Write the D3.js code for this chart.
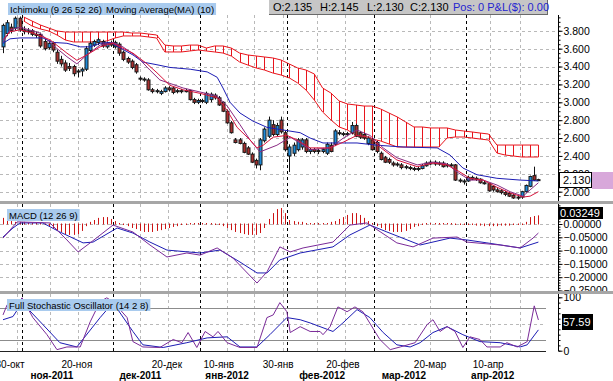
<!DOCTYPE html>
<html>
<head>
<meta charset="utf-8">
<script src="https://cdnjs.cloudflare.com/ajax/libs/d3/7.8.5/d3.min.js"></script>
<style>
body { margin: 0; background: #fff; }
svg text { font-family: "Liberation Sans", Arial, sans-serif; }
</style>
</head>
<body>
<svg id="chart" width="613" height="381"></svg>
<script>
// ----------------- DATA -----------------
var openP = [3.62,3.77,3.84,3.83,3.94,3.81,3.79,3.80,3.76,3.76,
    3.68,3.61,3.66,3.56,3.48,3.44,3.40,3.40,3.34,3.35,
    3.37,3.58,3.64,3.67,3.68,3.62,3.66,3.62,3.65,3.56,
    3.49,3.46,3.42,3.27,3.26,3.25,3.14,3.12,3.10,3.12,
    3.16,3.16,3.12,3.13,3.12,3.13,3.03,3.00,3.02,3.00,
    3.03,3.08,3.05,3.00,2.90,2.77,2.58,2.58,2.54,2.49,
    2.42,2.35,2.30,2.57,2.62,2.75,2.64,2.80,2.66,2.40,
    2.43,2.47,2.50,2.58,2.45,2.47,2.46,2.45,2.43,2.52,
    2.53,2.66,2.65,2.64,2.66,2.74,2.66,2.64,2.54,2.58,
    2.55,2.43,2.38,2.36,2.32,2.31,2.30,2.28,2.27,2.26,
    2.25,2.26,2.29,2.31,2.33,2.31,2.32,2.29,2.30,2.30,
    2.13,2.12,2.12,2.14,2.15,2.14,2.10,2.09,2.06,2.02,
    2.01,1.99,1.98,1.96,1.94,1.94,2.00,2.06,2.18,2.135];
var highP = [3.88,3.92,3.88,3.96,3.96,3.85,3.83,3.82,3.79,3.78,
    3.71,3.69,3.68,3.59,3.52,3.47,3.44,3.42,3.37,3.39,
    3.63,3.68,3.70,3.72,3.70,3.68,3.69,3.69,3.67,3.58,
    3.51,3.48,3.44,3.29,3.28,3.27,3.16,3.15,3.14,3.18,
    3.18,3.17,3.15,3.15,3.15,3.14,3.05,3.04,3.04,3.12,
    3.11,3.10,3.07,3.01,2.92,2.79,2.60,2.60,2.56,2.51,
    2.44,2.37,2.60,2.72,2.84,2.80,2.77,2.84,2.68,2.53,
    2.55,2.60,2.60,2.60,2.49,2.49,2.48,2.49,2.55,2.55,
    2.70,2.69,2.67,2.67,2.78,2.76,2.68,2.66,2.62,2.60,
    2.57,2.45,2.40,2.38,2.34,2.33,2.32,2.30,2.29,2.28,
    2.28,2.31,2.34,2.35,2.35,2.34,2.34,2.32,2.32,2.31,
    2.15,2.14,2.18,2.18,2.17,2.15,2.12,2.10,2.07,2.04,
    2.03,2.01,2.00,1.98,1.96,2.01,2.08,2.18,2.28,2.145];
var lowP = [3.55,3.74,3.77,3.80,3.79,3.76,3.76,3.74,3.72,3.61,
    3.58,3.59,3.56,3.43,3.40,3.34,3.35,3.29,3.28,3.29,
    3.35,3.56,3.62,3.64,3.61,3.60,3.62,3.60,3.52,3.46,
    3.43,3.37,3.32,3.24,3.23,3.13,3.10,3.10,3.08,3.11,
    3.12,3.09,3.10,3.10,3.11,3.02,2.98,2.98,2.99,2.98,
    3.00,3.03,2.96,2.89,2.76,2.65,2.54,2.53,2.43,2.41,
    2.32,2.26,2.24,2.55,2.60,2.62,2.62,2.65,2.45,2.22,
    2.40,2.45,2.47,2.43,2.42,2.43,2.42,2.43,2.41,2.44,
    2.51,2.63,2.62,2.62,2.64,2.61,2.59,2.58,2.52,2.46,
    2.43,2.35,2.32,2.31,2.28,2.28,2.25,2.25,2.24,2.23,
    2.23,2.25,2.28,2.30,2.29,2.29,2.27,2.27,2.28,2.12,
    2.10,2.08,2.11,2.13,2.12,2.09,2.08,2.00,2.00,1.99,
    1.97,1.95,1.94,1.92,1.91,1.92,1.99,2.05,2.12,2.13];
var closeP = [3.86,3.89,3.80,3.94,3.81,3.79,3.80,3.76,3.75,3.63,
    3.60,3.66,3.585,3.46,3.43,3.36,3.38,3.32,3.35,3.37,
    3.60,3.66,3.68,3.70,3.63,3.66,3.64,3.67,3.55,3.48,
    3.45,3.39,3.34,3.26,3.25,3.14,3.12,3.13,3.12,3.16,
    3.14,3.11,3.13,3.12,3.13,3.03,3.00,3.02,3.01,3.10,
    3.09,3.05,2.97,2.90,2.77,2.66,2.55,2.54,2.44,2.42,
    2.33,2.30,2.58,2.70,2.80,2.64,2.74,2.67,2.47,2.50,
    2.52,2.58,2.58,2.45,2.47,2.45,2.45,2.47,2.53,2.45,
    2.68,2.65,2.64,2.65,2.74,2.62,2.61,2.60,2.60,2.47,
    2.45,2.36,2.33,2.33,2.30,2.30,2.27,2.27,2.26,2.25,
    2.26,2.29,2.32,2.33,2.31,2.32,2.28,2.30,2.29,2.13,
    2.12,2.12,2.16,2.16,2.14,2.10,2.09,2.01,2.02,2.00,
    1.99,1.97,1.95,1.93,1.93,2.00,2.07,2.17,2.13,2.13];

// ichimoku cloud, one value every 2nd bar starting at bar 5
var cloudFirst = 5;
var cloudTop = [3.954,3.909,3.865,3.831,3.798,
    3.786,3.786,3.786,3.786,3.786,3.786,3.786,3.786,
    3.775,3.775,3.764,3.753,
    3.64,3.63,3.63,3.64,3.64,3.607,3.63,3.63,3.607,
    3.551,3.529,3.518,3.507,3.496,3.473,3.428,3.384,3.361,3.317,
    3.16,3.104,3.015,2.981,2.97,2.958,2.958,2.925,2.88,2.836,2.78,2.724,2.724,
    2.713,2.713,2.713,2.69,2.679,2.668,2.656,2.645,
    2.522,2.522,2.522,2.522,2.522,2.522];
var cloudBot = [3.909,3.853,3.82,3.798,3.753,
    3.697,3.675,3.675,3.675,3.675,3.686,3.719,3.742,
    3.742,3.742,3.731,3.719,
    3.563,3.563,3.563,3.574,3.585,3.574,3.563,3.551,3.518,
    3.451,3.417,3.384,3.361,3.328,3.305,3.272,3.216,3.138,3.026,
    2.892,2.803,2.724,2.69,2.634,2.601,2.589,2.567,2.534,2.5,2.5,2.5,2.5,
    2.5,2.5,2.601,2.612,2.612,2.601,2.589,2.578,
    2.433,2.41,2.399,2.388,2.388,2.388];

// [bar, value]
var kijun = [[0,3.66],[1.7,3.71],[4.1,3.72],[9.6,3.72],[12,3.67],[15.4,3.66],[18.6,3.62],[21,3.62],
    [23.4,3.66],[25.8,3.67],[28.2,3.61],[31.3,3.53],[33.7,3.45],[37.1,3.42],[40.2,3.39],[45.1,3.37],
    [49.2,3.34],[51.6,3.28],[53,3.16],[54.7,3.00],[57.1,2.88],[60.2,2.79],[63.6,2.72],[67.5,2.69],
    [71.6,2.66],[74,2.60],[77.1,2.545],[85.3,2.545],[90.1,2.52],[96.4,2.50],[104.6,2.49],[107.7,2.41],
    [110.8,2.265],[114.2,2.19],[119,2.15],[124.6,2.13],[129,2.12]];
var ma10 = [[0,3.70],[1.7,3.79],[4.1,3.81],[7.2,3.775],[11.3,3.70],[15.4,3.55],[17.8,3.47],[20.2,3.53],
    [23.4,3.62],[26.5,3.66],[28.2,3.62],[31.3,3.55],[34.7,3.43],[37.1,3.33],[40.2,3.19],[43.4,3.14],
    [47.5,3.10],[51.6,3.05],[54,2.91],[56.4,2.72],[59.5,2.58],[61.2,2.49],[62.7,2.52],[65.1,2.61],
    [68.4,2.63],[70.8,2.58],[74,2.49],[78.8,2.49],[82,2.555],[85.3,2.63],[88.4,2.61],[90.8,2.50],
    [94.9,2.355],[99.8,2.28],[103.6,2.32],[107,2.30],[109.4,2.24],[112.5,2.15],[115.7,2.13],[119,2.05],
    [122.2,1.985],[125.3,1.94],[127,1.95],[129,2.00]];
var tenkan = [[0,3.67],[1.7,3.81],[4.1,3.84],[8.9,3.775],[12,3.64],[15.4,3.51],[17.8,3.43],[20.2,3.53],
    [23.4,3.64],[26.5,3.67],[28.9,3.62],[32.3,3.51],[35.4,3.36],[37.8,3.25],[43.4,3.16],[47.5,3.115],
    [51.6,3.07],[54,2.96],[57.1,2.75],[59.5,2.58],[61.9,2.445],[66,2.52],[69.2,2.61],[71.6,2.545],
    [74,2.47],[78.8,2.49],[82,2.60],[85.3,2.69],[88.4,2.63],[91.6,2.49],[94.9,2.38],[99.8,2.30],
    [103.6,2.33],[107,2.31],[109.4,2.22],[112.5,2.13],[115.7,2.13],[119,2.075],[122.2,2.00],
    [125.3,1.95],[127,2.02],[129,2.10]];

var macdHist = [0.023,0.019,0.011,0.008,0.008,0.008,0.004,0.002,0.002,0.000,
    -0.004,-0.008,-0.015,-0.023,-0.030,-0.038,-0.041,-0.041,-0.038,-0.026,
    -0.008,0.008,0.015,0.023,0.026,0.026,0.019,0.011,0.002,-0.004,
    -0.008,-0.015,-0.019,-0.026,-0.030,-0.030,-0.030,-0.026,-0.023,-0.019,
    -0.015,-0.011,-0.008,-0.004,-0.002,0.002,0.000,0.002,0.002,0.002,
    0.000,-0.002,-0.004,-0.008,-0.015,-0.023,-0.030,-0.034,-0.038,-0.041,
    -0.041,-0.041,-0.034,-0.015,0.019,0.041,0.056,0.060,0.041,0.015,
    0.011,0.008,0.008,0.004,0.004,0.004,0.004,0.004,0.004,0.008,
    0.011,0.019,0.026,0.034,0.041,0.041,0.034,0.023,0.011,0.004,
    -0.008,-0.015,-0.023,-0.026,-0.030,-0.030,-0.030,-0.026,-0.019,-0.011,
    -0.008,-0.004,0.000,0.000,0.002,0.002,0.002,0.000,0.000,-0.002,
    -0.004,-0.004,-0.004,-0.004,-0.006,-0.006,-0.008,-0.008,-0.008,-0.008,
    -0.006,-0.006,-0.006,-0.004,-0.004,-0.002,0.008,0.026,0.030,0.03249];
var macdLine = [[0,-0.053],[3.4,0.008],[11.3,0.004],[15.4,-0.060],[18.1,-0.105],[21,-0.071],[26.5,-0.004],
    [31.3,-0.030],[35.4,-0.079],[39.5,-0.124],[44.3,-0.109],[47.5,-0.117],[51.6,-0.090],[55.4,-0.128],
    [61.2,-0.222],[63.6,-0.180],[66.7,-0.086],[69.2,-0.105],[72.3,-0.090],[79.5,-0.068],[83.6,-0.004],
    [87.7,0.004],[94.9,-0.071],[98.8,-0.086],[103.6,-0.053],[109.4,-0.049],[111.8,-0.068],[119.8,-0.079],
    [124.6,-0.090],[127.7,-0.053],[129,-0.034]];
var signalLine = [[0,-0.049],[2.4,-0.015],[4.1,0.004],[9.6,0.004],[13.7,-0.030],[19.3,-0.071],[21.7,-0.068],
    [27.5,-0.015],[31.3,-0.034],[35.4,-0.068],[39.5,-0.098],[47.5,-0.109],[52.3,-0.098],[57.1,-0.143],
    [61.2,-0.184],[63.6,-0.184],[66.7,-0.135],[71.6,-0.109],[79.5,-0.086],[83.6,-0.041],[88.4,-0.004],
    [92.5,-0.030],[100.5,-0.079],[107.7,-0.053],[111.8,-0.060],[116.6,-0.071],[124.6,-0.090],[129,-0.068]];

var stochK = [[0,67],[1,86],[2.4,77],[4.6,99],[7.2,62],[10.6,30],[13,2],[15.4,7],[18.6,7],[21,54],
    [23.4,92],[25,99],[26.5,92],[29.9,62],[31.3,17],[33.7,7],[37.8,6],[41,21],[43.1,15],[44.6,34],
    [46.7,6],[48.7,36],[50.6,26],[51.8,36],[54,15],[57.1,6],[61.2,6],[63.6,62],[65.1,67],[66.7,90],
    [68.4,73],[69.2,34],[71.6,45],[74,36],[76.4,36],[77.1,30],[78.8,45],[80.7,82],[82.9,73],[84.8,82],
    [86.7,73],[89.6,36],[90.8,21],[93.3,2],[95.7,7],[99.3,15],[102.2,49],[103.6,58],[105.3,36],[107,45],
    [108.9,36],[110.8,6],[112.5,26],[114.9,21],[116.6,7],[119.8,7],[121.4,15],[123.9,7],[126.3,17],
    [128,84],[129,57.59]];
var stochD = [[0,58],[2.4,64],[4.6,90],[9.6,49],[13.7,15],[17.8,7],[23.4,62],[26.5,90],[31.3,36],[33.7,11],
    [38.6,6],[44.3,15],[49.2,24],[54,26],[57.1,7],[61.2,7],[64.3,30],[68.4,62],[71.6,58],[74,52],
    [79.5,36],[81.9,52],[85.3,77],[88.4,62],[91.6,34],[94.9,11],[98.1,7],[100.5,15],[103.6,34],[107,45],
    [110.8,30],[114.9,17],[119.8,15],[124.6,7],[126.3,11],[129,39]];

var priceTicks = [3.8, 3.6, 3.4, 3.2, 3.0, 2.8, 2.6, 2.4, 2.2, 2.0];
var macdTicks = [0, -0.05, -0.10, -0.15, -0.20, -0.25];
var stochTicks = [100, 0];
var stochGrid = [50];
var stochLevels = [80, 20];

var dateLabels = ['30-окт', '20-ноя', '20-дек', '10-янв', '30-янв', '20-фев', '20-мар', '10-апр'];
var dateBars = [1.7, 17.8, 39.5, 52, 66.3, 81.9, 102.9, 116.9];
var monthLabels = ['ноя-2011', 'дек-2011', 'янв-2012', 'фев-2012', 'мар-2012', 'апр-2012'];
var monthLabelBars = [11.8, 33.1, 54, 76.9, 96.6, 118];
var monthStarts = [5, 27, 48, 69, 90, 112];
var gridBars = [3.4, 11.3, 18.1, 33, 39.8, 54, 60.5, 67.5, 75.7, 82.4, 102.9, 117.3, 124.6];

var lastOHLC = ['O:2.135', 'H:2.145', 'L:2.130', 'C:2.130'];

// ----------------- SETUP -----------------
var svg = d3.select('#chart');
var axisX = 558;

var panels = {
    price: {top: 15, bottom: 201, labelBottom: 201},
    macd: {top: 204, bottom: 291, labelBottom: 291},
    stoch: {top: 294, bottom: 351, labelBottom: 358}
};

var x = d3.scaleLinear().domain([0, 129]).range([3, 538.4]);
var step = x(1) - x(0);
var yP = d3.scaleLinear().domain([2, 3]).range([191.7, 102.3]);
var yM = d3.scaleLinear().domain([0, -0.05]).range([224, 237.3]);
var yS = d3.scaleLinear().domain([0, 100]).range([350.7, 297.3]);

var defs = svg.append('defs');
Object.keys(panels).forEach(function(k) {
    var p = panels[k];
    defs.append('clipPath').attr('id', 'clip-' + k).append('rect')
        .attr('x', 0).attr('y', p.top).attr('width', axisX).attr('height', p.bottom - p.top);
    // same band but including the right axis area
    defs.append('clipPath').attr('id', 'clipaxis-' + k).append('rect')
        .attr('x', 0).attr('y', p.top).attr('width', 613).attr('height', p.labelBottom - p.top);
});

function px(v) { return Math.round(v) + 0.5; }

function drawGrid(name, yScale, ticks, right) {
    var p = panels[name];
    var g = svg.append('g').attr('clip-path', 'url(#clip-' + name + ')');
    g.selectAll(null).data(ticks).enter().append('line')
        .attr('x1', 0).attr('x2', right)
        .attr('y1', function(d) { return px(yScale(d)); })
        .attr('y2', function(d) { return px(yScale(d)); })
        .attr('stroke', '#b9b9b9').attr('stroke-dasharray', '3,3');
    g.selectAll(null).data(gridBars).enter().append('line')
        .attr('x1', function(d) { return px(x(d)); })
        .attr('x2', function(d) { return px(x(d)); })
        .attr('y1', p.top).attr('y2', p.bottom)
        .attr('stroke', '#b9b9b9').attr('stroke-dasharray', '3,3');
    g.selectAll(null).data(monthStarts).enter().append('line')
        .attr('x1', function(d) { return px(x(d) - step / 2); })
        .attr('x2', function(d) { return px(x(d) - step / 2); })
        .attr('y1', p.top).attr('y2', p.bottom)
        .attr('stroke', '#000').attr('stroke-dasharray', '3,3');
    return g;
}

function drawLine(g, pts, yScale, color, w) {
    var line = d3.line().x(function(d) { return x(d[0]); }).y(function(d) { return yScale(d[1]); });
    g.append('path').datum(pts).attr('d', line)
        .attr('fill', 'none').attr('stroke', color).attr('stroke-width', w || 1);
}

function label(xp, yp, text, size) {
    var t = svg.append('text').attr('x', xp + 2).attr('y', yp)
        .attr('font-size', size).attr('fill', '#000').text(text);
    var b = t.node().getBBox();
    svg.insert('rect', function() { return t.node(); })
        .attr('x', xp).attr('y', b.y - 1).attr('width', b.width + 4).attr('height', b.height + 1)
        .attr('fill', '#a9cbee');
}

// ----------------- PRICE PANEL -----------------
var gP = drawGrid('price', yP, priceTicks, axisX);

var cloud = cloudTop.map(function(v, k) {
    return {i: cloudFirst + k * 2, top: v, bot: cloudBot[k]};
});
gP.selectAll(null).data(cloud).enter().append('line')
    .attr('x1', function(d) { return px(x(d.i)); })
    .attr('x2', function(d) { return px(x(d.i)); })
    .attr('y1', function(d) { return yP(d.top); })
    .attr('y2', function(d) { return yP(d.bot); })
    .attr('stroke', '#e8141c').attr('stroke-width', 1);
['top', 'bot'].forEach(function(k) {
    gP.append('path').datum(cloud)
        .attr('d', d3.line().x(function(d) { return x(d.i); }).y(function(d) { return yP(d[k]); }))
        .attr('fill', 'none').attr('stroke', '#e8141c').attr('stroke-width', 1);
});

var bars = closeP.map(function(c, i) {
    return {i: i, o: openP[i], h: highP[i], l: lowP[i], c: c};
});
gP.selectAll(null).data(bars).enter().append('line')
    .attr('x1', function(d) { return px(x(d.i)); })
    .attr('x2', function(d) { return px(x(d.i)); })
    .attr('y1', function(d) { return yP(d.h); })
    .attr('y2', function(d) { return yP(d.l); })
    .attr('stroke', '#111');
gP.selectAll(null).data(bars).enter().append('rect')
    .attr('x', function(d) { return Math.round(x(d.i)) - 1; })
    .attr('width', 3)
    .attr('y', function(d) { return yP(Math.max(d.o, d.c)); })
    .attr('height', function(d) { return Math.max(1, Math.abs(yP(d.o) - yP(d.c))); })
    .attr('fill', function(d) { return d.c >= d.o ? '#1f8ad8' : '#a8302e'; })
    .attr('stroke', '#1a1a1a').attr('stroke-width', 1);

drawLine(gP, kijun, yP, '#1c1cb4', 1);
drawLine(gP, tenkan, yP, '#8a2a82', 1);
drawLine(gP, ma10, yP, '#d8143c', 1);

// ----------------- MACD PANEL -----------------
var gM = drawGrid('macd', yM, macdTicks, axisX);
gM.selectAll(null).data(macdHist).enter().append('line')
    .attr('x1', function(d, i) { return px(x(i)); })
    .attr('x2', function(d, i) { return px(x(i)); })
    .attr('y1', function(d) { return yM(0) + (d < 0 ? -0.5 : 0.5); })
    .attr('y2', function(d) {
        var y = yM(d);
        if (Math.abs(y - yM(0)) < 1.5) y = yM(0) + (d < 0 ? 1 : -1);
        return y;
    })
    .attr('stroke', '#cc1414').attr('stroke-width', 1);
drawLine(gM, signalLine, yM, '#1c1cb4', 1);
drawLine(gM, macdLine, yM, '#7a2a98', 1);

// ----------------- STOCHASTIC PANEL -----------------
var gS = drawGrid('stoch', yS, stochGrid, 546);
gS.selectAll(null).data(stochLevels).enter().append('line')
    .attr('x1', 0).attr('x2', 546)
    .attr('y1', function(d) { return px(yS(d)); })
    .attr('y2', function(d) { return px(yS(d)); })
    .attr('stroke', '#8c8c8c');
drawLine(gS, stochD, yS, '#1c1cb4', 1);
drawLine(gS, stochK, yS, '#7a2a98', 1);
svg.append('line').attr('x1', 0).attr('x2', 546).attr('y1', 351.5).attr('y2', 351.5)
    .attr('stroke', '#222');

// ----------------- SEPARATORS -----------------
svg.append('rect').attr('x', 0).attr('y', 201).attr('width', 613).attr('height', 3).attr('fill', '#a6a6a6');
svg.append('rect').attr('x', 0).attr('y', 291).attr('width', 613).attr('height', 3).attr('fill', '#a6a6a6');

// ----------------- RIGHT AXES -----------------
function rightAxis(name, yScale, ticks, fmt, minor) {
    var p = panels[name];
    var g = svg.append('g').attr('clip-path', 'url(#clipaxis-' + name + ')');
    g.append('line').attr('x1', axisX + 0.5).attr('x2', axisX + 0.5)
        .attr('y1', p.top).attr('y2', p.bottom).attr('stroke', '#000');
    var gm = g.append('g').attr('transform', 'translate(' + (axisX + 0.5) + ',0)')
        .call(d3.axisRight(yScale).tickValues(minor).tickSize(2).tickFormat(''));
    gm.select('.domain').remove();
    var ga = g.append('g').attr('transform', 'translate(' + (axisX + 0.5) + ',0)')
        .call(d3.axisRight(yScale).tickValues(ticks).tickSize(4).tickPadding(1).tickFormat(fmt));
    ga.select('.domain').remove();
    ga.selectAll('text').attr('font-size', 10.5).attr('fill', '#000')
        .attr('font-family', '"Liberation Sans", Arial, sans-serif');
    ga.selectAll('line').attr('stroke', '#000');
    gm.selectAll('line').attr('stroke', '#000');
    return ga;
}
rightAxis('price', yP, priceTicks, d3.format('.3f'), d3.range(1.95, 3.96, 0.05));
rightAxis('macd', yM, macdTicks, d3.format('.5f'), d3.range(-0.25, 0.071, 0.01));
rightAxis('stoch', yS, stochTicks, d3.format('d'), d3.range(0, 101, 10));

// value boxes
svg.append('rect').attr('x', 592).attr('y', 172).attr('width', 21).attr('height', 17).attr('fill', '#d8a8da');
svg.append('rect').attr('x', 559.5).attr('y', 172.5).attr('width', 32).attr('height', 15)
    .attr('fill', '#fff').attr('stroke', '#000');
svg.append('text').attr('x', 563).attr('y', yP(closeP[129]) + 4).attr('font-size', 11).text('2.130');

svg.append('rect').attr('x', 558).attr('y', 207).attr('width', 45).attr('height', 12).attr('fill', '#000');
svg.append('text').attr('x', 560).attr('y', 217).attr('font-size', 11).attr('fill', '#fff')
    .text(d3.format('.5f')(macdHist[129]));

svg.append('rect').attr('x', 562).attr('y', 314).attr('width', 31).attr('height', 16).attr('fill', '#000');
svg.append('text').attr('x', 563).attr('y', 326).attr('font-size', 11).attr('fill', '#fff').text('57.59');

// ----------------- HEADER -----------------
svg.append('rect').attr('x', 269).attr('y', 0).attr('width', 279).attr('height', 14).attr('fill', '#c6c6c6');
svg.append('line').attr('x1', 269).attr('x2', 548).attr('y1', 14.5).attr('y2', 14.5).attr('stroke', '#6a6a6a');
svg.append('line').attr('x1', 547.5).attr('x2', 547.5).attr('y1', 0).attr('y2', 14.5).attr('stroke', '#6a6a6a');
var ohlcX = [273, 320, 367, 410];
lastOHLC.forEach(function(t, k) {
    svg.append('text').attr('x', ohlcX[k]).attr('y', 11).attr('font-size', 11).attr('fill', '#000').text(t);
});
svg.append('text').attr('x', 453).attr('y', 11).attr('font-size', 11).attr('fill', '#2424d0')
    .text('Pos: 0 P&L($): 0.00');

label(8, 13, 'Ichimoku (9 26 52 26)', 9.5);
label(104, 13, 'Moving Average(MA) (10)', 9.5);
label(7, 219, 'MACD (12 26 9)', 9.5);
label(7, 309, 'Full Stochastic Oscillator (14 2 8)', 9.5);

// ----------------- X AXIS -----------------
svg.selectAll(null).data(dateLabels).enter().append('text')
    .attr('x', function(d, k) { return x(dateBars[k]); })
    .attr('y', 368).attr('text-anchor', 'middle').attr('font-size', 10).attr('fill', '#000')
    .text(function(d) { return d; });
svg.selectAll(null).data(monthLabels).enter().append('text')
    .attr('x', function(d, k) { return x(monthLabelBars[k]); })
    .attr('y', 379).attr('text-anchor', 'middle').attr('font-size', 10).attr('font-weight', 'bold')
    .attr('fill', '#000')
    .text(function(d) { return d; });
</script>
</body>
</html>
